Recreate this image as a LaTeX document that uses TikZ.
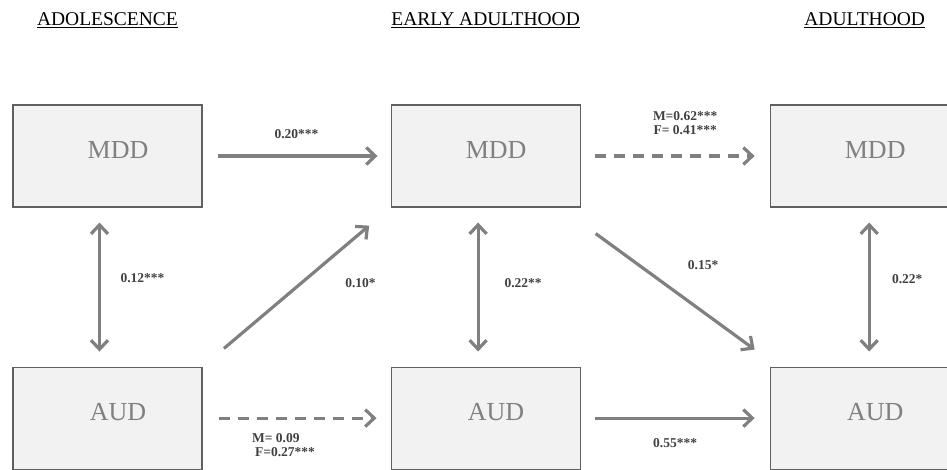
\documentclass[tikz,border=0pt]{standalone}
\usepackage{fontspec}
\setmainfont{Liberation Serif}
\usepackage{tikz}
\usetikzlibrary{arrows.meta,positioning,shadows}
\usepackage{xcolor}
\definecolor{boxfill}{RGB}{242,242,242}
\definecolor{boxedge}{RGB}{96,96,96}
\definecolor{boxtext}{RGB}{128,128,128}
\definecolor{linkgray}{RGB}{128,128,128}
\definecolor{coefgray}{RGB}{64,64,64}
\tikzstyle{stage} = [font=\fontsize{19.5}{22}\selectfont, text=black, anchor=base]
\tikzstyle{varbox} = [rectangle, minimum width=189pt, minimum height=102pt, text depth=12pt, draw=boxedge, fill=boxfill, line width=1.1pt, text=boxtext, font=\fontsize{26}{30}\selectfont, drop shadow={shadow xshift=0.8pt, shadow yshift=-1.2pt, opacity=0.25}]
\tikzstyle{link} = [line width=3.2pt, draw=linkgray, ->, >={Straight Barb[length=9pt,width=17pt]}]
\tikzstyle{dlink} = [link, dash pattern=on 11pt off 8pt]
\tikzstyle{both} = [link, <->]
\tikzstyle{coef} = [font=\fontsize{13.5}{14.5}\selectfont\bfseries, text=coefgray, align=center]

\begin{document}
\begin{tikzpicture}[x=1pt, y=-1pt]
\useasboundingbox (0,0) rectangle (947,470);

% Adolescence
\node[varbox] (mdd1) at (107.5,156) {\hspace*{21pt}MDD};
\node[varbox, below=159pt of mdd1] (aud1) {\hspace*{21pt}AUD};

% Early adulthood
\node[varbox, right=188pt of mdd1] (mdd2) {\hspace*{21pt}MDD};
\node[varbox, right=188pt of aud1] (aud2) {\hspace*{21pt}AUD};

% Adulthood
\node[varbox, right=189pt of mdd2] (mdd3) {\hspace*{21pt}MDD};
\node[varbox, right=189pt of aud2] (aud3) {\hspace*{21pt}AUD};

% Stage headers
\node[stage] (st1) at (mdd1.north |- 0,26) {\underline{ADOLESCENCE}};
\node[stage] (st2) at (mdd2.north |- 0,26) {\underline{EARLY ADULTHOOD}};
\node[stage] (st3) at (mdd3.north |- 0,26) {\underline{ADULTHOOD}};

% MDD paths
\draw[link, shorten <=15pt, shorten >=13pt] (mdd1) -- (mdd2) node[coef, midway, yshift=22pt] {0.20***};
\draw[dlink, shorten <=14pt, shorten >=15pt] (mdd2) -- (mdd3) node[coef, midway, xshift=10pt, yshift=33pt] {M=0.62***\\F= 0.41***};

% Correlations
\draw[both, shorten <=15pt, shorten >=15pt] ([xshift=-8pt]mdd1.south) -- ([xshift=-8pt]aud1.north) node[coef, midway, xshift=43pt, yshift=9pt] {0.12***};
\draw[both, shorten <=15pt, shorten >=15pt] ([xshift=-7.5pt]mdd2.south) -- ([xshift=-7.5pt]aud2.north) node[coef, midway, xshift=45pt, yshift=4pt] {0.22**};
\draw[both, shorten <=15pt, shorten >=15pt] ([xshift=4.5pt]mdd3.south) -- ([xshift=4.5pt]aud3.north) node[coef, midway, xshift=38pt, yshift=8pt] {0.22*};

% Cross paths
\draw[link, shorten <=28pt, shorten >=28pt] (aud1.north east) -- (mdd2.south west) node[coef, midway, xshift=64pt, yshift=4pt] {0.10*};
\draw[link] ([xshift=15pt,yshift=-26pt]mdd2.south east) -- ([xshift=-15pt,yshift=17pt]aud3.north west) node[coef, midway, xshift=28pt, yshift=26pt] {0.15*};

% AUD paths
\draw[dlink, shorten <=16pt, shorten >=14pt] (aud1) -- (aud2) node[coef, align=left, midway, xshift=-13pt, yshift=-27pt] {M= 0.09\\\hspace*{3pt}F=0.27***};
\draw[link, shorten <=14pt, shorten >=15pt] (aud2) -- (aud3) node[coef, midway, yshift=-25pt] {0.55***};
\end{tikzpicture}
\end{document}
